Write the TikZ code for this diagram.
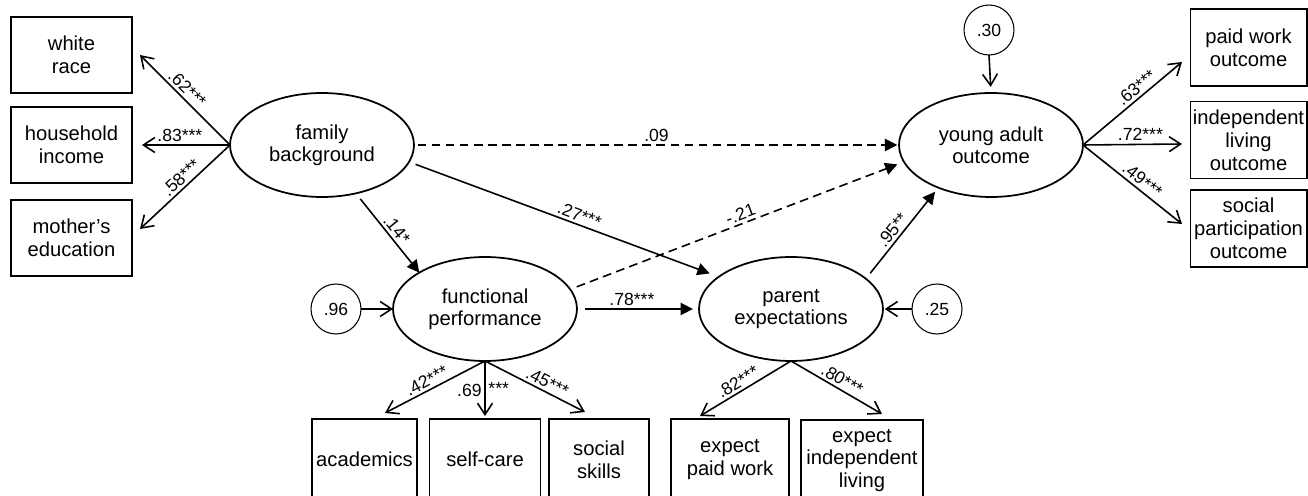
\documentclass[tikz,border=0pt]{standalone}
\usepackage{fontspec}
\setmainfont{Liberation Sans}
\usetikzlibrary{shapes.geometric,arrows.meta,calc}

\begin{document}
\begin{tikzpicture}[x=0.02cm, y=-0.02cm,
    latent/.style={ellipse, draw, line width=1pt, minimum width=3.68cm,
      minimum height=2.08cm, inner sep=0pt, outer sep=0pt, align=center,
      font=\fontsize{11.5}{12.5}\selectfont},
    observed/.style={rectangle, draw, line width=0.6pt, inner sep=0pt,
      outer sep=0pt, align=center, font=\fontsize{11.5}{13}\selectfont},
    leftbox/.style={observed, minimum width=2.42cm, minimum height=1.52cm},
    rightbox/.style={observed, minimum width=2.34cm, minimum height=1.54cm},
    lowbox/.style={observed, minimum height=1.62cm},
    resid/.style={circle, draw, line width=0.6pt, minimum size=1cm,
      inner sep=0pt, outer sep=0pt, font=\fontsize{10}{11}\selectfont},
    loading/.style={-{Straight Barb[length=6.5pt,width=8.5pt]}, line width=0.9pt},
    struct/.style={-{Triangle[length=7pt,width=7pt]}, line width=0.9pt},
    nonsig/.style={struct, dash pattern=on 5pt off 3pt},
    coef/.style={font=\fontsize{10}{12}\selectfont, inner sep=1.5pt}]
  \useasboundingbox (0,0) rectangle (1308,496);

  % latent variables
  \node[latent] (fam) at (322,145) {family\\background};
  \node[latent] (func) at (485,309) {functional\\performance};
  \node[latent] (par) at (791,309) {parent\\expectations};
  \node[latent] (yao) at (991,145) {young adult\\outcome};

  % indicators
  \node[leftbox] (white) at (71.5,55) {white\\race};
  \node[leftbox] (income) at (71.5,145) {household\\income};
  \node[leftbox] (mother) at (71.5,238) {mother's\\education};
  \node[rightbox] (paid) at (1248.5,47.5) {paid work\\outcome};
  \node[rightbox] (indep) at (1248.5,140) {independent\\living\\outcome};
  \node[rightbox] (social) at (1248.5,228.5) {social\\participation\\outcome};
  \node[lowbox, minimum width=2.1cm] (acad) at (364.5,459.5) {academics};
  \node[lowbox, minimum width=2.22cm] (selfcare) at (485,459.5) {self-care};
  \node[lowbox, minimum width=2cm] (skills) at (599,459.5) {social\\skills};
  \node[lowbox, minimum width=2.36cm] (expaid) at (730,459.5) {expect\\paid work};
  \node[lowbox, minimum width=2.44cm] (exindep) at (862,460.5) {expect\\independent\\living};

  % residuals
  \node[resid] (e30) at (989,30) {.30};
  \node[resid] (e96) at (336,309) {.96};
  \node[resid] (e25) at (937,309) {.25};

  \draw[loading] (fam.west) -- ($(white.east)+(8,0)$)
    node[coef, sloped, above, pos=0.55] {.62***};
  \draw[loading] (fam.west) -- ($(income.east)+(10,0)$)
    node[coef, above, pos=0.57] {.83***};
  \draw[loading] (fam.west) -- ($(mother.east)+(8,-9)$)
    node[coef, sloped, above, pos=0.47] {.58***};

  \draw[loading] (yao.east) -- ($(paid.west)+(-8,14.5)$)
    node[coef, sloped, above, pos=0.6] {.63***};
  \draw[loading] (yao.east) -- ($(indep.west)+(-8,4)$)
    node[coef, above, pos=0.58] {.72***};
  \draw[loading] (yao.east) -- ($(social.west)+(-8,-4.5)$)
    node[coef, sloped, above, pos=0.54] {.49***};

  \draw[loading] (func.south) -- ($(acad.north)+(20.5,-6)$)
    node[coef, sloped, above, pos=0.54] {.42***};
  \draw[loading, shorten >=1.7pt] (func.south) -- (selfcare.north)
    node[coef, left, pos=0.5] {.69}
    node[coef, right, pos=0.48] {***};
  \draw[loading] (func.south) -- ($(skills.north)+(-14,-7)$)
    node[coef, sloped, above, pos=0.58] {.45***};
  \draw[loading] (par.south) -- ($(expaid.north)+(-30,-3)$)
    node[coef, sloped, above, pos=0.53] {.82***};
  \draw[loading] (par.south) -- ($(exindep.north)+(20,-6)$)
    node[coef, sloped, above, pos=0.51] {.80***};

  \draw[loading, shorten >=3.5pt] (e30.south) -- (yao.north);
  \draw[loading] (e96) -- (func);
  \draw[loading, shorten >=1pt] (e25) -- (par);

  % structural paths
  \draw[struct, shorten <=4pt] (fam.-55) -- (func.151)
    node[coef, sloped, above, pos=0.53] {.14*};
  \draw[struct, shorten <=4pt, shorten >=5.5pt] (fam.-11) -- (par.156)
    node[coef, sloped, above, pos=0.54] {.27***};
  \draw[nonsig, shorten <=2pt, shorten >=1pt] (fam.east) -- (yao.west)
    node[coef, above, pos=0.5] {.09};
  \draw[nonsig, shorten <=4pt, shorten >=4pt] (func.13) -- (yao.191)
    node[coef, sloped, above, pos=0.52] {-.21};
  \draw[struct, shorten <=4.5pt, shorten >=3.5pt] (func.east) -- (par.west)
    node[coef, above, pos=0.45] {.78***};
  \draw[struct, shorten <=4pt, shorten >=3pt] (par.22) -- (yao.219)
    node[coef, sloped, above, pos=0.47] {.95**};
\end{tikzpicture}
\end{document}
